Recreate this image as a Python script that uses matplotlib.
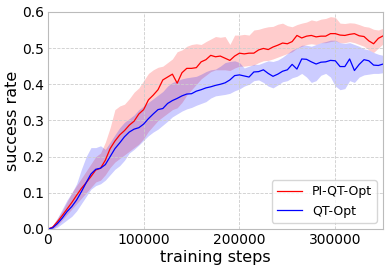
import numpy as np
import matplotlib
matplotlib.use('Agg')
import matplotlib.pyplot as plt

# training steps, one reading every 5000 steps
steps = np.arange(0, 350001, 5000)

# PI-QT-Opt: mean and band
pi_mean = [0.0, 0.005, 0.02, 0.037, 0.055, 0.073, 0.093, 0.112, 0.128, 0.145,
           0.163, 0.168, 0.19, 0.222, 0.243, 0.26, 0.272, 0.287, 0.298, 0.318,
           0.33, 0.357, 0.37, 0.385, 0.412, 0.42, 0.428, 0.403, 0.432, 0.444,
           0.444, 0.446, 0.462, 0.468, 0.48, 0.476, 0.478, 0.472, 0.466, 0.478,
           0.486, 0.484, 0.486, 0.486, 0.495, 0.499, 0.496, 0.503, 0.508, 0.514,
           0.512, 0.518, 0.535, 0.528, 0.533, 0.535, 0.531, 0.533, 0.533, 0.54,
           0.54, 0.536, 0.535, 0.538, 0.54, 0.534, 0.532, 0.52, 0.512, 0.527,
           0.534]
pi_hi = [0.0, 0.01, 0.03, 0.05, 0.075, 0.1, 0.12, 0.14, 0.16, 0.18,
         0.2, 0.21, 0.24, 0.28, 0.33, 0.34, 0.345, 0.36, 0.378, 0.39,
         0.41, 0.43, 0.44, 0.447, 0.45, 0.46, 0.47, 0.49, 0.495, 0.505,
         0.51, 0.512, 0.51, 0.518, 0.525, 0.532, 0.53, 0.532, 0.51, 0.536,
         0.536, 0.538, 0.536, 0.55, 0.552, 0.556, 0.559, 0.56, 0.566, 0.569,
         0.562, 0.559, 0.565, 0.569, 0.572, 0.578, 0.575, 0.58, 0.582, 0.587,
         0.585, 0.569, 0.568, 0.57, 0.569, 0.565, 0.56, 0.558, 0.552, 0.55,
         0.555]
pi_lo = [0.0, 0.0, 0.01, 0.025, 0.04, 0.055, 0.07, 0.085, 0.1, 0.115,
         0.13, 0.135, 0.15, 0.17, 0.185, 0.195, 0.205, 0.215, 0.225, 0.235,
         0.25, 0.27, 0.285, 0.3, 0.31, 0.32, 0.33, 0.335, 0.35, 0.37,
         0.385, 0.4, 0.415, 0.425, 0.435, 0.44, 0.44, 0.44, 0.438, 0.445,
         0.45, 0.45, 0.452, 0.453, 0.46, 0.465, 0.466, 0.47, 0.475, 0.48,
         0.485, 0.49, 0.5, 0.505, 0.51, 0.512, 0.51, 0.515, 0.515, 0.518,
         0.52, 0.515, 0.515, 0.518, 0.515, 0.51, 0.505, 0.495, 0.488, 0.5,
         0.512]

# QT-Opt: mean and band
qt_mean = [0.0, 0.003, 0.015, 0.03, 0.048, 0.062, 0.08, 0.103, 0.128, 0.152,
           0.165, 0.168, 0.178, 0.2, 0.222, 0.238, 0.255, 0.268, 0.276, 0.28,
           0.29, 0.305, 0.318, 0.33, 0.333, 0.347, 0.355, 0.361, 0.368, 0.373,
           0.374, 0.381, 0.385, 0.39, 0.393, 0.397, 0.4, 0.404, 0.412, 0.424,
           0.426, 0.423, 0.42, 0.434, 0.435, 0.44, 0.43, 0.422, 0.428, 0.436,
           0.44, 0.455, 0.442, 0.47, 0.469, 0.462, 0.456, 0.461, 0.462, 0.466,
           0.465, 0.449, 0.449, 0.47, 0.438, 0.455, 0.468, 0.465, 0.453, 0.452,
           0.456]
qt_hi = [0.0, 0.01, 0.03, 0.055, 0.08, 0.1, 0.125, 0.165, 0.2, 0.225,
         0.225, 0.23, 0.22, 0.24, 0.26, 0.28, 0.295, 0.305, 0.315, 0.33,
         0.34, 0.35, 0.36, 0.37, 0.38, 0.395, 0.405, 0.41, 0.415, 0.418,
         0.42, 0.422, 0.428, 0.435, 0.44, 0.442, 0.45, 0.46, 0.463, 0.465,
         0.46, 0.445, 0.45, 0.455, 0.455, 0.46, 0.465, 0.463, 0.467, 0.475,
         0.485, 0.495, 0.5, 0.508, 0.508, 0.505, 0.51, 0.515, 0.518, 0.522,
         0.522, 0.515, 0.513, 0.515, 0.51, 0.505, 0.498, 0.495, 0.488, 0.483,
         0.48]
qt_lo = [0.0, 0.0, 0.005, 0.015, 0.025, 0.035, 0.05, 0.07, 0.09, 0.11,
         0.12, 0.125, 0.135, 0.15, 0.165, 0.175, 0.19, 0.21, 0.22, 0.232,
         0.245, 0.258, 0.268, 0.276, 0.287, 0.298, 0.31, 0.318, 0.326, 0.332,
         0.336, 0.342, 0.347, 0.352, 0.362, 0.368, 0.37, 0.372, 0.375, 0.382,
         0.387, 0.395, 0.4, 0.41, 0.412, 0.405, 0.395, 0.39, 0.398, 0.407,
         0.41, 0.418, 0.422, 0.43, 0.42, 0.405, 0.41, 0.425, 0.43, 0.42,
         0.395, 0.385, 0.388, 0.41, 0.405, 0.42, 0.426, 0.428, 0.43, 0.43,
         0.432]

fig = plt.figure(figsize=(3.89, 2.71), dpi=100)
ax = fig.add_axes([0.123, 0.155, 0.862, 0.801])

ax.fill_between(steps, pi_lo, pi_hi, color='red', alpha=0.2, linewidth=0)
ax.fill_between(steps, qt_lo, qt_hi, color='blue', alpha=0.2, linewidth=0)
ax.plot(steps, pi_mean, color='red', linewidth=0.9, label='PI-QT-Opt')
ax.plot(steps, qt_mean, color='blue', linewidth=0.9, label='QT-Opt')

ax.set_xlim(0, 350000)
ax.set_ylim(0, 0.6)
ax.set_xticks([0, 100000, 200000, 300000])
ax.set_yticks([0.0, 0.1, 0.2, 0.3, 0.4, 0.5, 0.6])
ax.ticklabel_format(axis='x', style='plain')
ax.tick_params(length=0, labelsize=10, pad=3)
ax.grid(True, linestyle='--', color='#cccccc', linewidth=0.6)
for s in ax.spines.values():
    s.set_color('#bbbbbb')

ax.set_xlabel('training steps', fontsize=11.5, labelpad=2)
ax.set_ylabel('success rate', fontsize=11.5, labelpad=1)
ax.legend(loc='lower right', fontsize=9, handlelength=2.0, framealpha=0.8)

plt.savefig('out.png', dpi=100)
